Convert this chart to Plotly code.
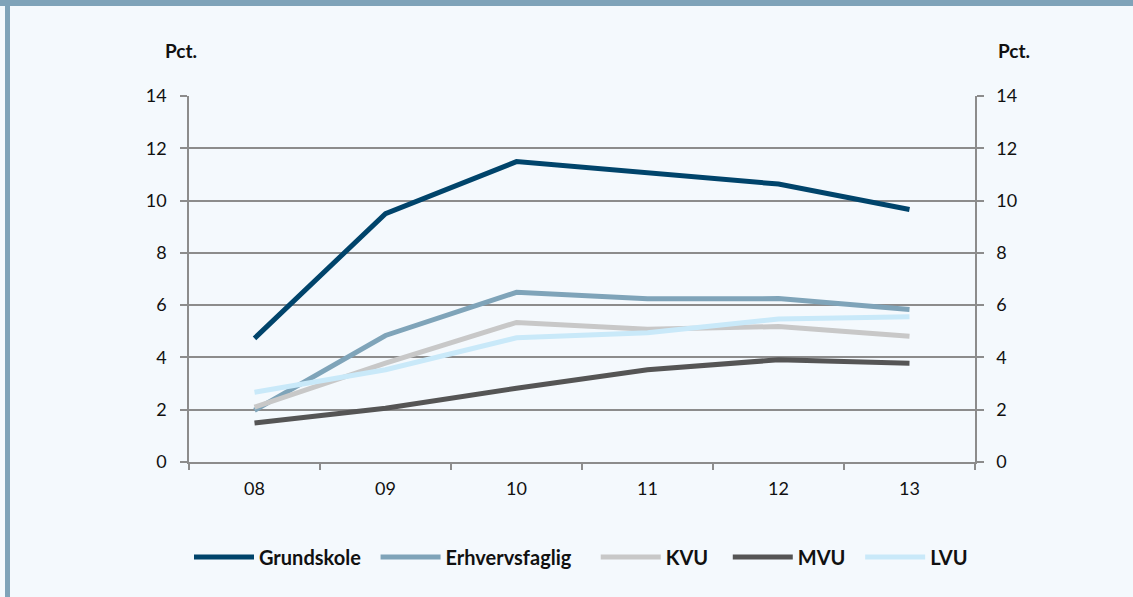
import plotly.graph_objects as go

years = ["08", "09", "10", "11", "12", "13"]
grundskole = [4.73, 9.50, 11.49, 11.07, 10.63, 9.66]
erhvervsfaglig = [1.98, 4.84, 6.49, 6.24, 6.25, 5.83]
kvu = [2.10, 3.78, 5.34, 5.08, 5.18, 4.81]
mvu = [1.49, 2.06, 2.82, 3.53, 3.91, 3.78]
lvu = [2.67, 3.53, 4.75, 4.94, 5.47, 5.56]

series_names = ["Grundskole", "Erhvervsfaglig", "KVU", "MVU", "LVU"]
series_values = [grundskole, erhvervsfaglig, kvu, mvu, lvu]
series_colors = ["#00446b", "#7fa4b9", "#c8c8c8", "#555555", "#c9e9f9"]
y_ticks = [0, 2, 4, 6, 8, 10, 12, 14]

BG = "#f4f9fd"
GRID = "#8c8c8c"
BAND = "#7fa3b9"
FONT = "Lato"
PADS = [2, 4, 3, 2, 0]

fig = go.Figure()
for name, vals, col, pad in zip(series_names, series_values, series_colors, PADS):
    fig.add_trace(go.Scatter(x=years, y=vals, name=name + "\u00a0" * pad, mode="lines",
                             line=dict(color=col, width=5)))
# invisible trace to activate the right axis
fig.add_trace(go.Scatter(x=years, y=grundskole, yaxis="y2", mode="lines",
                         line=dict(color="rgba(0,0,0,0)", width=0),
                         showlegend=False, hoverinfo="skip"))

W, H = 1133, 597
L, R, T, B = 189, 158, 96, 135
pw, ph = W - L - R, H - T - B

def px(x):
    return (x - L) / pw

def py(y):
    return (H - B - y) / ph

axis_common = dict(range=[0, 14], tickvals=y_ticks, ticks="outside", ticklen=7,
                   tickcolor=GRID, tickwidth=1.5, showline=True, linecolor=GRID,
                   linewidth=1.5, tickfont=dict(family=FONT, size=18, color="#111111"),
                   zeroline=False, fixedrange=True)

fig.update_layout(
    width=W, height=H,
    margin=dict(l=L, r=R, t=T, b=B),
    paper_bgcolor=BG, plot_bgcolor=BG,
    font=dict(family=FONT, color="#111111"),
    xaxis=dict(type="category", range=[-0.5, 5.5], ticks="outside", tickson="boundaries",
               ticklen=6, tickcolor=GRID, tickwidth=1.5, showline=True, linecolor=GRID,
               linewidth=1.5, showgrid=False, fixedrange=True,
               tickfont=dict(family=FONT, size=18, color="#111111"),
               ticklabelstandoff=10),
    yaxis=dict(side="left", showgrid=True, gridcolor=GRID, gridwidth=1.5,
               ticklabelstandoff=10, **axis_common),
    yaxis2=dict(side="right", overlaying="y", showgrid=False,
                ticklabelstandoff=9, **axis_common),
    legend=dict(orientation="h", x=px(189), xanchor="left", y=py(557), yanchor="middle",
                font=dict(family=FONT, size=20, color="#111111", weight="bold"),
                bgcolor="rgba(0,0,0,0)", itemwidth=60, tracegroupgap=0),
    showlegend=True,
)

fig.add_annotation(text="<b>Pct.</b>", xref="paper", yref="paper", x=px(181), y=py(50),
                   showarrow=False, font=dict(family=FONT, size=19, color="#111111"),
                   xanchor="center", yanchor="middle")
fig.add_annotation(text="<b>Pct.</b>", xref="paper", yref="paper", x=px(1014), y=py(50),
                   showarrow=False, font=dict(family=FONT, size=19, color="#111111"),
                   xanchor="center", yanchor="middle")

# frame decorations: top band and left border
fig.add_shape(type="rect", xref="paper", yref="paper", x0=px(0), x1=px(W), y0=py(6), y1=py(0),
              fillcolor=BAND, line=dict(width=0), layer="below")
fig.add_shape(type="rect", xref="paper", yref="paper", x0=px(5), x1=px(10), y0=py(H), y1=py(6),
              fillcolor=BAND, line=dict(width=0), layer="below")

fig.write_html("out.html", config={"displayModeBar": False},
               post_script="document.body.style.margin='0';document.body.style.overflow='hidden';")
